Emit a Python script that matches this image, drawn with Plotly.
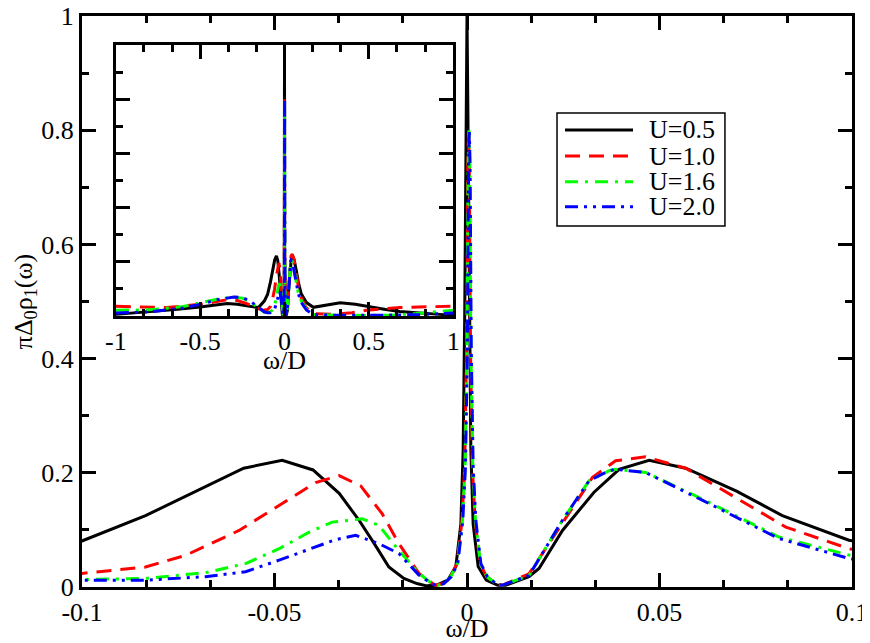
import plotly.graph_objects as go

# spectral function pi*Delta0*rho1(omega) for four U values
w_05 = [-1.0, -0.8, -0.65, -0.5, -0.4, -0.34, -0.28, -0.22, -0.155, -0.12, -0.1, -0.0835, -0.068,
        -0.058, -0.048, -0.040, -0.0332, -0.028, -0.024, -0.0203, -0.0164, -0.013, -0.0105, -0.008,
        -0.005, -0.0029, -0.0016, -0.001, -0.0006, -0.0003, 0.0, 0.0003, 0.0006, 0.001, 0.0016,
        0.0029, 0.005, 0.008, 0.01, 0.0161, 0.0187, 0.0248, 0.033, 0.0395, 0.0473, 0.0568, 0.07,
        0.0819, 0.0992, 0.13, 0.171, 0.25, 0.33, 0.42, 0.517, 0.6, 0.684, 0.84, 0.92, 1.0]
r_05 = [0.006, 0.015, 0.024, 0.033, 0.042, 0.046, 0.043, 0.036, 0.031, 0.055, 0.0806, 0.125, 0.1757,
        0.208, 0.222, 0.205, 0.164, 0.1165, 0.075, 0.035, 0.015, 0.006, 0.002, 0.003,
        0.012, 0.036, 0.11, 0.24, 0.47, 0.78, 1.0, 0.78, 0.47, 0.24, 0.11,
        0.036, 0.012, 0.003, 0.003, 0.018, 0.0325, 0.099, 0.166, 0.206, 0.222, 0.208, 0.168,
        0.125, 0.082, 0.05, 0.032, 0.040, 0.049, 0.043, 0.032, 0.024, 0.017, 0.0086, 0.006, 0.003]

w_10 = [-1.0, -0.85, -0.7, -0.5, -0.4, -0.34, -0.28, -0.224, -0.17, -0.125, -0.1, -0.0835, -0.073,
        -0.0592, -0.0462, -0.0393, -0.0332, -0.0276, -0.022, -0.0177, -0.0125, -0.0083, -0.006,
        -0.0043, -0.0026, -0.0013, -0.0006, -0.0001, 0.0002, 0.0004, 0.0006, 0.0009, 0.0014,
        0.0021, 0.0034, 0.0051, 0.0075, 0.0091, 0.0161, 0.0248, 0.0326, 0.0386, 0.0464, 0.0568,
        0.068, 0.0828, 0.0992, 0.13, 0.171, 0.29, 0.4, 0.487, 0.6, 0.684, 0.85, 1.0]
r_10 = [0.036, 0.033, 0.031, 0.043, 0.055, 0.06, 0.057, 0.046, 0.03, 0.021, 0.0238, 0.035, 0.0557,
        0.099, 0.154, 0.183, 0.195, 0.177, 0.128, 0.076, 0.024, 0.003, 0.006,
        0.018, 0.041, 0.116, 0.21, 0.42, 0.74, 0.8, 0.74, 0.42, 0.21,
        0.116, 0.041, 0.018, 0.006, 0.003, 0.023, 0.111, 0.192, 0.221, 0.228, 0.208,
        0.163, 0.105, 0.067, 0.03, 0.009, 0.006, 0.012, 0.021, 0.027, 0.031, 0.034, 0.036]

w_16 = [-1.0, -0.8, -0.6, -0.5, -0.4, -0.3, -0.25, -0.204, -0.145, -0.12, -0.1, -0.0835, -0.068,
        -0.0575, -0.0488, -0.041, -0.035, -0.0272, -0.0229, -0.0177, -0.0125, -0.009, -0.0075,
        -0.006, -0.0042, -0.0025, -0.0012, -0.0005, 0.0, 0.0003, 0.0005, 0.0007, 0.001, 0.0015,
        0.0022, 0.0035, 0.0052, 0.0075, 0.0091, 0.0161, 0.0248, 0.0317, 0.0369, 0.0386, 0.0464,
        0.0611, 0.081, 0.0992, 0.13, 0.171, 0.3, 0.5, 0.65, 0.78, 0.9, 1.0]
r_16 = [0.021, 0.023, 0.035, 0.048, 0.062, 0.07, 0.066, 0.052, 0.023, 0.014, 0.013, 0.015, 0.025,
        0.041, 0.067, 0.096, 0.1136, 0.1194, 0.108, 0.064, 0.024, 0.005, 0.003,
        0.006, 0.018, 0.041, 0.116, 0.21, 0.42, 0.74, 0.8, 0.74, 0.42, 0.21,
        0.116, 0.041, 0.018, 0.006, 0.003, 0.02, 0.117, 0.186, 0.2035, 0.206, 0.2006,
        0.154, 0.0876, 0.056, 0.025, 0.006, 0.003, 0.002, 0.004, 0.009, 0.015, 0.021]

w_20 = [-1.0, -0.8, -0.6, -0.5, -0.4, -0.3, -0.25, -0.204, -0.15, -0.12, -0.1, -0.0835, -0.068,
        -0.0575, -0.0488, -0.0393, -0.0341, -0.0289, -0.0229, -0.0177, -0.0125, -0.009, -0.0075,
        -0.006, -0.0041, -0.0024, -0.0011, -0.0004, 0.0001, 0.0004, 0.0006, 0.0008, 0.0011, 0.0016,
        0.0023, 0.0036, 0.0053, 0.0075, 0.0091, 0.0161, 0.0248, 0.0317, 0.0369, 0.0386, 0.0464,
        0.0611, 0.081, 0.0992, 0.13, 0.171, 0.3, 0.6, 0.8, 1.0]
r_20 = [0.011, 0.015, 0.03, 0.043, 0.06, 0.07, 0.068, 0.055, 0.03, 0.015, 0.012, 0.012, 0.018,
        0.0267, 0.047, 0.070, 0.083, 0.0904, 0.076, 0.0586, 0.021, 0.005, 0.003,
        0.006, 0.018, 0.041, 0.116, 0.21, 0.42, 0.74, 0.8, 0.74, 0.42, 0.21,
        0.116, 0.041, 0.018, 0.006, 0.003, 0.02, 0.117, 0.186, 0.2035, 0.206, 0.2006,
        0.152, 0.085, 0.05, 0.022, 0.005, 0.003, 0.003, 0.005, 0.011]

labels = ["U=0.5", "U=1.0", "U=1.6", "U=2.0"]
colors = ["black", "red", "#00ff00", "blue"]
dashes = ["solid", "15px,9px", "13px,7px,3px,7px", "13px,6px,3px,6px,3px,6px"]
series = [(w_05, r_05), (w_10, r_10), (w_16, r_16), (w_20, r_20)]

main_xticks = [-0.1, -0.05, 0, 0.05, 0.1]
main_xtext = ["-0.1", "-0.05", "0", "0.05", "0.1"]
main_yticks = [0, 0.2, 0.4, 0.6, 0.8, 1]
main_ytext = ["0", "0.2", "0.4", "0.6", "0.8", "1"]
inset_xticks = [-1, -0.5, 0, 0.5, 1]
inset_xtext = ["-1", "-0.5", "0", "0.5", "1"]

font = dict(family="Liberation Serif, Times New Roman, serif", size=26, color="black")

fig = go.Figure()
for (w, r), name, c, d in zip(series, labels, colors, dashes):
    fig.add_trace(go.Scatter(x=w, y=r, mode="lines", name=name, showlegend=False,
                             line=dict(color=c, width=3, dash=d), xaxis="x", yaxis="y"))
for (w, r), name, c, d in zip(series, labels, colors, dashes):
    fig.add_trace(go.Scatter(x=w, y=r, mode="lines", name=name, showlegend=False,
                             line=dict(color=c, width=3, dash=d), xaxis="x2", yaxis="y2"))

axis_style = dict(showline=True, linewidth=3, linecolor="black", mirror="ticks",
                  ticks="inside", ticklen=14, tickwidth=2.5, tickcolor="black",
                  showgrid=False, zeroline=False, tickfont=font, tickmode="array",
                  automargin=False, ticklabeloverflow="allow")
minor_style = dict(ticks="inside", ticklen=7, tickwidth=2.5, tickcolor="black",
                   tick0=0, showgrid=False)

# page body adds an 8px offset, so the figure is 8px smaller and margins shifted
fig.update_layout(
    width=862, height=635,
    margin=dict(l=74, r=18, t=8, b=56),
    paper_bgcolor="white", plot_bgcolor="white",
    font=font,
    xaxis=dict(axis_style, range=[-0.1, 0.1], tickvals=main_xticks, ticktext=main_xtext,
               minor=dict(minor_style, dtick=0.05 / 3),
               title=dict(text="ω/D", font=font, standoff=4), domain=[0, 1]),
    yaxis=dict(axis_style, range=[0, 1], tickvals=main_yticks, ticktext=main_ytext,
               minor=dict(minor_style, dtick=0.1),
               title=dict(text="πΔ<sub>0</sub>ρ<sub>1</sub>(ω)", font=font, standoff=1),
               domain=[0, 1]),
    xaxis2=dict(axis_style, range=[-1, 1], tickvals=inset_xticks, ticktext=inset_xtext,
                minor=dict(minor_style, dtick=1 / 6),
                domain=[0.044, 0.482], anchor="y2"),
    yaxis2=dict(axis_style, range=[0, 1], tickvals=main_yticks, showticklabels=False,
                minor=dict(minor_style, dtick=0.1),
                domain=[0.4746, 0.9492], anchor="x2"),
)

# inset x title, set close under its tick labels
fig.add_annotation(xref="paper", yref="paper", x=0.263, y=0.396, text="ω/D", showarrow=False,
                   xanchor="center", yanchor="middle", font=font)

# hand-drawn legend box (matches the compact original legend)
fig.add_shape(type="rect", xref="paper", yref="paper", x0=0.6169, x1=0.835, y0=0.6322, y1=0.8301,
              line=dict(color="black", width=1.5), fillcolor="white", layer="above")
row_y = [0.8004, 0.7548, 0.7098, 0.6660]
for yy, name, c, d in zip(row_y, labels, colors, dashes):
    fig.add_shape(type="line", xref="paper", yref="paper", x0=0.6273, x1=0.7156, y0=yy, y1=yy,
                  line=dict(color=c, width=3, dash=d), layer="above")
    fig.add_annotation(xref="paper", yref="paper", x=0.7338, y=yy, text=name, showarrow=False,
                       xanchor="left", yanchor="middle", font=font)

fig.write_html("out.html")
